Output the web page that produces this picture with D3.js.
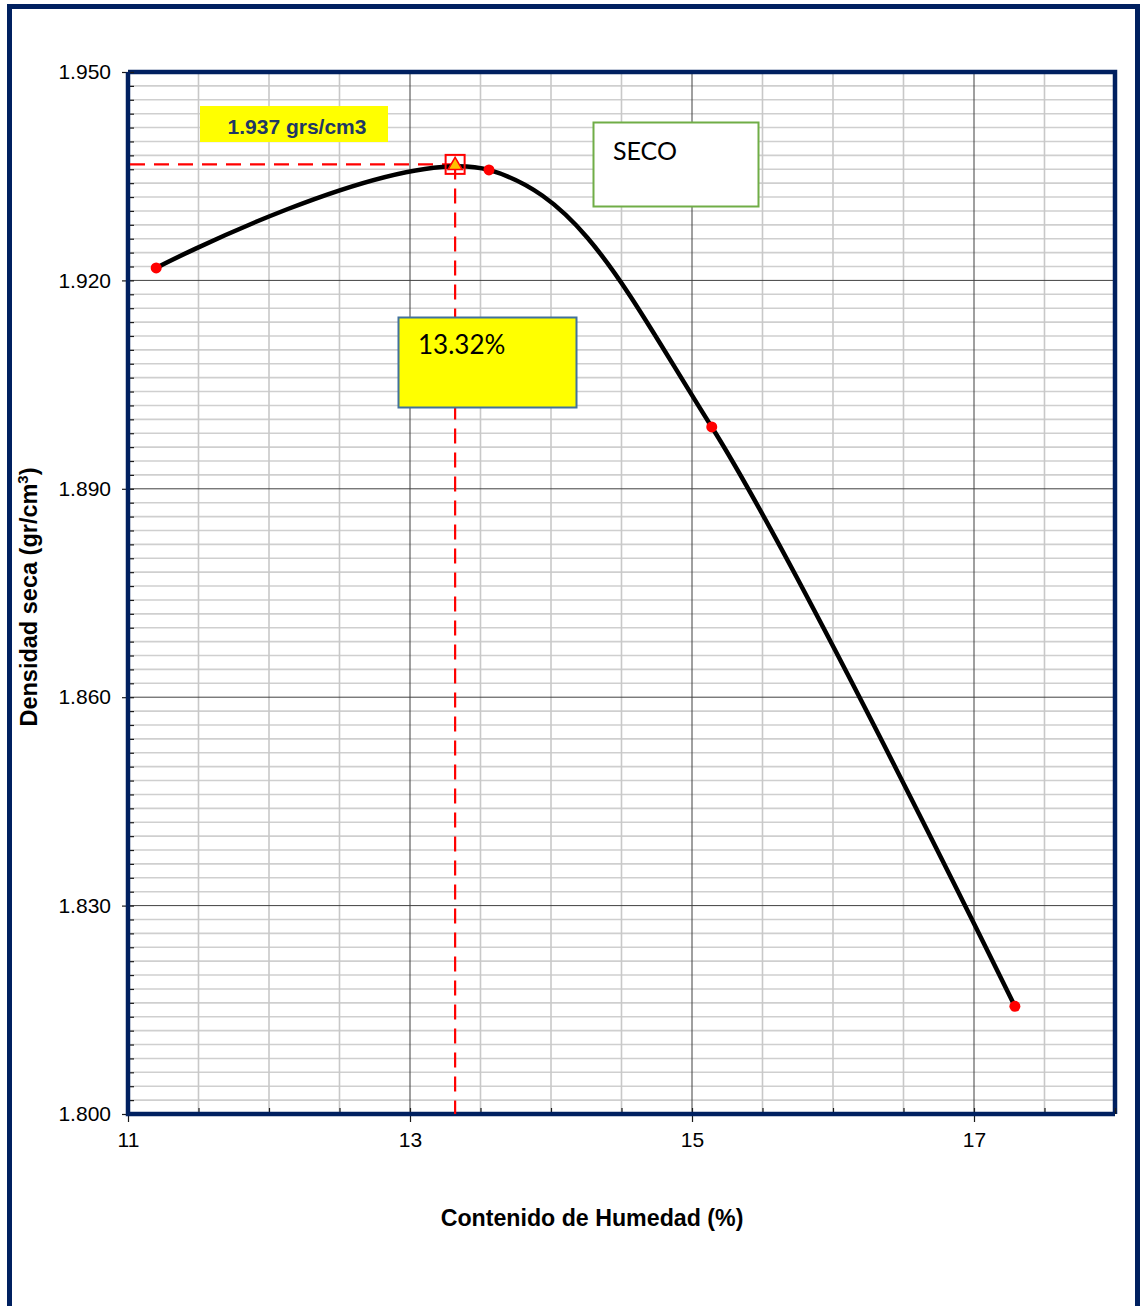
<!DOCTYPE html>
<html>
<head>
<meta charset="utf-8">
<script src="https://cdn.jsdelivr.net/npm/d3@7"></script>
<style>
  html, body { margin: 0; padding: 0; background: #fff; }
  svg { display: block; }
</style>
</head>
<body>
<svg id="chart" width="1142" height="1306"></svg>
<script>
// ---- data ----
const humedad = [11.2, 13.56, 15.14, 17.29];        // Contenido de Humedad (%)
const densidad = [1.9218, 1.9359, 1.8989, 1.8155];   // Densidad seca (gr/cm3)
const optimoHumedad = 13.32;
const maxDensidad = 1.9367;
const xMajorTicks = [11, 13, 15, 17];
const yMajorTicks = [1.800, 1.830, 1.860, 1.890, 1.920, 1.950];
const labelDensidad = "1.937 grs/cm3";
const labelHumedad = "13.32%";
const labelSeco = "SECO";

const svg = d3.select("#chart");
const L = 128, R = 1115, T = 72, B = 1114;

const x = d3.scaleLinear().domain([11, 18]).range([L, R]);
const y = d3.scaleLinear().domain([1.800, 1.950]).range([B, T]);

const xMinor = d3.range(0, 15).map(i => 11 + i * 0.5);
const yMinor = d3.range(0, 76).map(i => +(1.800 + i * 0.002).toFixed(3));
const isMajorX = v => Math.abs((v - 11) % 2) < 1e-6;
const isMajorY = v => Math.round((v - 1.8) / 0.002) % 15 === 0;

// outer frame
svg.append("rect").attr("x", 9.5).attr("y", 6.5).attr("width", 1128).attr("height", 1320)
  .attr("fill", "none").attr("stroke", "#002060").attr("stroke-width", 5);

// gridlines
const grid = svg.append("g");
grid.selectAll(".hminor").data(yMinor.filter(v => !isMajorY(v))).join("line")
  .attr("x1", L).attr("x2", R).attr("y1", d => y(d)).attr("y2", d => y(d))
  .attr("stroke", "#cfcfcf").attr("stroke-width", 1.6);
grid.selectAll(".vminor").data(xMinor.filter(v => !isMajorX(v))).join("line")
  .attr("y1", T).attr("y2", B).attr("x1", d => x(d)).attr("x2", d => x(d))
  .attr("stroke", "#c8c8c8").attr("stroke-width", 1.6);
grid.selectAll(".hmajor").data(yMajorTicks.slice(1, -1)).join("line")
  .attr("x1", L).attr("x2", R).attr("y1", d => y(d)).attr("y2", d => y(d))
  .attr("stroke", "#404040").attr("stroke-width", 1);
grid.selectAll(".vmajor").data(xMajorTicks.slice(1)).join("line")
  .attr("y1", T).attr("y2", B).attr("x1", d => x(d)).attr("x2", d => x(d))
  .attr("stroke", "#404040").attr("stroke-width", 1);

// plot border (top/right)
svg.append("path")
  .attr("d", `M${L},${T}H${R}V${B}`)
  .attr("fill", "none").attr("stroke", "#002060").attr("stroke-width", 4.5);

// axes
const fontTick = "'Liberation Sans', Arial, sans-serif";
const yAxisMinor = svg.append("g").attr("transform", `translate(${L},0)`)
  .call(d3.axisLeft(y).tickValues(yMinor).tickSize(-6).tickFormat(""));
const yAxis = svg.append("g").attr("transform", `translate(${L},0)`)
  .call(d3.axisLeft(y).tickValues(yMajorTicks).tickSize(6).tickPadding(11).tickFormat(d3.format(".3f")));
const xAxisMinor = svg.append("g").attr("transform", `translate(0,${B})`)
  .call(d3.axisBottom(x).tickValues(xMinor).tickSize(-6).tickFormat(""));
const xAxis = svg.append("g").attr("transform", `translate(0,${B})`)
  .call(d3.axisBottom(x).tickValues(xMajorTicks).tickSize(8).tickPadding(10).tickFormat(d3.format("d")));

[yAxisMinor, yAxis, xAxisMinor, xAxis].forEach(g => {
  g.attr("font-size", 21).attr("font-family", fontTick);
  g.select(".domain").remove();
  g.selectAll(".tick line").attr("stroke", "#1a1a1a").attr("stroke-width", 1.2);
  g.selectAll("text").attr("font-family", fontTick).attr("font-size", 21).attr("fill", "#000");
});

// left & bottom axis lines
svg.append("path").attr("d", `M${L},${T}V${B}H${R}`)
  .attr("fill", "none").attr("stroke", "#002060").attr("stroke-width", 4.5);

// dashed guide lines
svg.append("line")
  .attr("x1", x(11) + 2).attr("x2", x(optimoHumedad)).attr("y1", y(maxDensidad)).attr("y2", y(maxDensidad))
  .attr("stroke", "#ff0000").attr("stroke-width", 2.2).attr("stroke-dasharray", "15,9");
svg.append("line")
  .attr("x1", x(optimoHumedad)).attr("x2", x(optimoHumedad)).attr("y1", y(maxDensidad)).attr("y2", B)
  .attr("stroke", "#ff0000").attr("stroke-width", 2.2).attr("stroke-dasharray", "15,9");

// curve
const pts = humedad.map((h, i) => [h, densidad[i]]);
const line = d3.line().x(d => x(d[0])).y(d => y(d[1])).curve(d3.curveCardinal.tension(0));
svg.append("path").datum(pts).attr("d", line)
  .attr("fill", "none").attr("stroke", "#000").attr("stroke-width", 4.5).attr("stroke-linecap", "round");

// points
svg.selectAll(".pt").data(pts).join("circle")
  .attr("cx", d => x(d[0])).attr("cy", d => y(d[1])).attr("r", 5.5).attr("fill", "#ff0000");

// peak marker
const px = x(optimoHumedad), py = y(maxDensidad);
svg.append("rect").attr("x", px - 9.5).attr("y", py - 9.5).attr("width", 19).attr("height", 19)
  .attr("fill", "none").attr("stroke", "#ff0000").attr("stroke-width", 2);
svg.append("path").attr("d", d3.symbol().type(d3.symbolTriangle).size(85)())
  .attr("transform", `translate(${px},${py + 1})`)
  .attr("fill", "#ffc000").attr("stroke", "#ff0000").attr("stroke-width", 1.6);

// annotation: density
svg.append("rect").attr("x", 200).attr("y", 106).attr("width", 188).attr("height", 36).attr("fill", "#ffff00");
svg.append("text").attr("x", 297).attr("y", 134).attr("text-anchor", "middle")
  .attr("font-family", fontTick).attr("font-weight", "bold").attr("font-size", 21)
  .attr("fill", "#1f3864").text(labelDensidad);

// annotation: SECO
svg.append("rect").attr("x", 593.5).attr("y", 122.5).attr("width", 165).attr("height", 84)
  .attr("fill", "#fff").attr("stroke", "#70ad47").attr("stroke-width", 2);
svg.append("text").attr("x", 613).attr("y", 160)
  .attr("font-family", "Lato, 'Open Sans', sans-serif").attr("font-size", 25).attr("fill", "#000").text(labelSeco);

// annotation: humedad
svg.append("rect").attr("x", 398.5).attr("y", 317.5).attr("width", 178).attr("height", 90)
  .attr("fill", "#ffff00").attr("stroke", "#41719c").attr("stroke-width", 2);
svg.append("text").attr("x", 418).attr("y", 354)
  .attr("font-family", "Lato, 'Open Sans', sans-serif").attr("font-size", 26).attr("fill", "#000").text(labelHumedad);

// axis titles
svg.append("text").attr("x", 592).attr("y", 1226).attr("text-anchor", "middle")
  .attr("font-family", fontTick).attr("font-weight", "bold").attr("font-size", 23.2)
  .attr("fill", "#000").text("Contenido de Humedad (%)");

const yt = svg.append("text").attr("transform", "translate(37,597) rotate(-90)").attr("text-anchor", "middle")
  .attr("font-family", fontTick).attr("font-weight", "bold").attr("font-size", 23.5).attr("fill", "#000");
yt.append("tspan").text("Densidad seca (gr/cm");
yt.append("tspan").attr("font-size", 15).attr("dy", -9).text("3");
yt.append("tspan").attr("dy", 9).text(")");
</script>
</body>
</html>
